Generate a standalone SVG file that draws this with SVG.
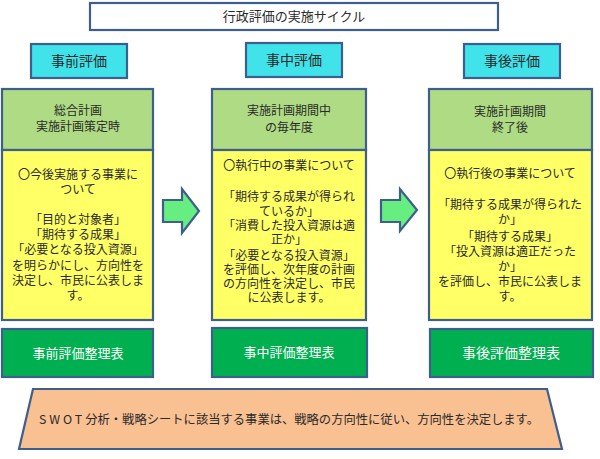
<svg xmlns="http://www.w3.org/2000/svg" width="600" height="459" viewBox="0 0 600 459">
<style>
  text { font-family: "Noto Sans CJK JP", "Noto Sans", sans-serif; text-anchor: middle; fill: #2a2a2a; }
  .bd { stroke: #3E5F8E; stroke-width: 2.2; }
  .title { fill: #ffffff; }
  .hdr { fill: #40E3EA; }
  .when { fill: #AEDB84; }
  .body { fill: #FFFF66; }
  .sheet { fill: #00B050; }
  .arrow { fill: #66EE80; stroke: #3E5F8E; stroke-width: 2.2; stroke-linejoin: miter; }
  .trap { fill: #F9C092; }
  .t12 { font-size: 12px; }
  .t13 { font-size: 13px; }
  .t14 { font-size: 14px; }
  .wt { fill: #ffffff; }
</style>
<rect width="600" height="459" fill="#ffffff"/>

<g id="title">
  <rect class="title bd" x="90" y="3" width="408" height="27"/>
  <text class="t13" x="294" y="21">行政評価の実施サイクル</text>
</g>

<g id="pre-label">
  <rect class="hdr bd" x="31" y="44" width="96" height="34"/>
  <text class="t14" x="79" y="66">事前評価</text>
</g>
<g id="mid-label">
  <rect class="hdr bd" x="246" y="43" width="96" height="34"/>
  <text class="t14" x="294" y="65">事中評価</text>
</g>
<g id="post-label">
  <rect class="hdr bd" x="464" y="44" width="96" height="34"/>
  <text class="t14" x="512" y="66">事後評価</text>
</g>

<g id="pre-card">
  <rect class="when bd" x="2" y="89" width="151" height="61"/>
  <text class="t12" x="78" y="115">総合計画</text>
  <text class="t12" x="78" y="131">実施計画策定時</text>
  <rect class="body bd" x="2" y="150" width="151" height="170"/>
  <text class="t12" x="78" y="179">〇今後実施する事業に</text>
  <text class="t12" x="78" y="194">ついて</text>
  <text class="t12" x="78" y="224">「目的と対象者」</text>
  <text class="t12" x="78" y="239">「期待する成果」</text>
  <text class="t12" x="78" y="254">「必要となる投入資源」</text>
  <text class="t12" x="78" y="270">を明らかにし、方向性を</text>
  <text class="t12" x="78" y="285">決定し、市民に公表しま</text>
  <text class="t12" x="78" y="300">す。</text>
</g>

<g id="mid-card">
  <rect class="when bd" x="212" y="89" width="154" height="61"/>
  <text class="t12" x="289" y="115">実施計画期間中</text>
  <text class="t12" x="289" y="132">の毎年度</text>
  <rect class="body bd" x="212" y="150" width="154" height="170"/>
  <text class="t12" x="289" y="170">〇執行中の事業について</text>
  <text class="t12" x="289" y="201">「期待する成果が得られ</text>
  <text class="t12" x="289" y="216">ているか」</text>
  <text class="t12" x="289" y="230">「消費した投入資源は適</text>
  <text class="t12" x="289" y="244">正か」</text>
  <text class="t12" x="289" y="260">「必要となる投入資源」</text>
  <text class="t12" x="289" y="274">を評価し、次年度の計画</text>
  <text class="t12" x="289" y="288">の方向性を決定し、市民</text>
  <text class="t12" x="289" y="302">に公表します。</text>
</g>

<g id="post-card">
  <rect class="when bd" x="429" y="89" width="163" height="61"/>
  <text class="t12" x="510" y="116">実施計画期間</text>
  <text class="t12" x="510" y="132">終了後</text>
  <rect class="body bd" x="429" y="150" width="163" height="170"/>
  <text class="t12" x="510" y="178">〇執行後の事業について</text>
  <text class="t12" x="510" y="209">「期待する成果が得られた</text>
  <text class="t12" x="510" y="224">か」</text>
  <text class="t12" x="510" y="241">「期待する成果」</text>
  <text class="t12" x="510" y="256">「投入資源は適正だった</text>
  <text class="t12" x="510" y="271">か」</text>
  <text class="t12" x="510" y="286">を評価し、市民に公表しま</text>
  <text class="t12" x="510" y="301">す。</text>
</g>

<g id="pre-sheet">
  <rect class="sheet bd" x="2" y="329" width="151" height="48"/>
  <text class="t13 wt" x="78" y="358">事前評価整理表</text>
</g>
<g id="mid-sheet">
  <rect class="sheet bd" x="212" y="328" width="155" height="49"/>
  <text class="t13 wt" x="289" y="357">事中評価整理表</text>
</g>
<g id="post-sheet">
  <rect class="sheet bd" x="430" y="329" width="163" height="48"/>
  <text class="t14 wt" x="511" y="358">事後評価整理表</text>
</g>

<g id="swot-note">
  <polygon class="trap bd" points="33,389 547,389 562,449 19,449"/>
  <text x="289" y="424" style="font-size:12.3px"><tspan letter-spacing="3">SWOT</tspan>分析・戦略シートに該当する事業は、戦略の方向性に従い、方向性を決定します。</text>
</g>

<g id="connectors">
  <polygon class="arrow" points="163,200 182,200 182,189 199,211 182,233 182,222 163,222"/>
  <polygon class="arrow" points="381,200 400,200 400,189 417,210 400,231 400,222 381,222"/>
</g>
</svg>
